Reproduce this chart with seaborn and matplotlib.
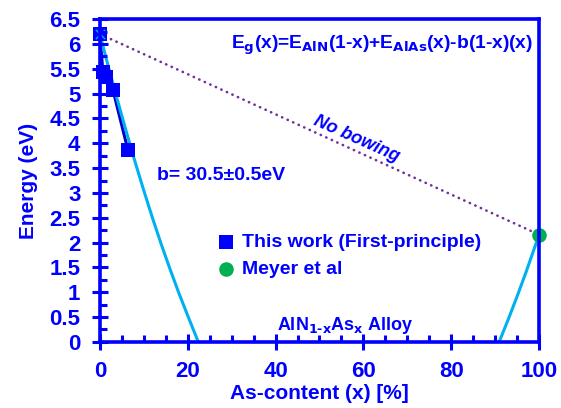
import numpy as np
import pandas as pd
import matplotlib
matplotlib.use("Agg")
import matplotlib.pyplot as plt
import seaborn as sns
from matplotlib.ticker import MultipleLocator

# ----------------------------
# Data
# ----------------------------

# first-principle points, As content in %
work_x = [0.0, 0.7, 1.4, 3.0, 6.4]
work_e = [6.2, 5.43, 5.33, 5.07, 3.86]

# Meyer et al
meyer_x = [100.0]
meyer_e = [2.16]

# no bowing line
linear_x = [0.0, 100.0]
linear_e = [6.2, 2.16]

# bowing curve, left branch
bow_left_x = [0.0, 2.0, 4.0, 6.0, 8.0, 10.0, 12.0, 14.0, 16.0, 18.0, 20.0, 22.4]
bow_left_e = [6.2, 5.52, 4.87, 4.24, 3.63, 3.05, 2.49, 1.96, 1.46, 0.98, 0.53, 0.0]

# bowing curve, right branch
bow_right_x = [90.9, 93.0, 95.0, 97.0, 100.0]
bow_right_e = [0.0, 0.46, 0.92, 1.40, 2.16]

BLUE = "#0000ff"
CYAN = "#00b0f0"
PURPLE = "#7030a0"
GREEN = "#00b050"

sns.set_style("ticks")
plt.rcParams["font.family"] = ["Liberation Sans", "DejaVu Sans"]
plt.rcParams["font.weight"] = "bold"
plt.rcParams["mathtext.default"] = "bf"

RECT = [0.178, 0.162, 0.783, 0.791]

fig = plt.figure(figsize=(5.61, 4.08), dpi=100)
ax = fig.add_axes(RECT)

# ----------------------------
# Lines
# ----------------------------

sns.lineplot(x=linear_x, y=linear_e, ax=ax, color=PURPLE,
             linestyle=(0, (0.1, 2.2)), linewidth=1.9, sort=False,
             dash_capstyle="round")

sns.lineplot(x=work_x, y=work_e, ax=ax, color="#0000cc",
             linewidth=2.2, sort=False)

sns.lineplot(x=bow_left_x, y=bow_left_e, ax=ax, color=CYAN,
             linewidth=2.2, sort=False)
sns.lineplot(x=bow_right_x, y=bow_right_e, ax=ax, color=CYAN,
             linewidth=2.2, sort=False)

# ----------------------------
# Markers
# ----------------------------

sns.scatterplot(x=work_x, y=work_e, ax=ax, marker="s", s=90,
                color=BLUE, edgecolor=BLUE, linewidth=0,
                label="This work (First-principle)", zorder=5, clip_on=False)
sns.scatterplot(x=work_x[:1], y=work_e[:1], ax=ax, marker="x", s=45,
                color=CYAN, linewidth=1, zorder=6, clip_on=False)
sns.scatterplot(x=meyer_x, y=meyer_e, ax=ax, marker="o", s=110,
                color=GREEN, edgecolor=GREEN, linewidth=0,
                label="Meyer et al", zorder=6, clip_on=False)

# ----------------------------
# Annotations
# ----------------------------

ax.text(0.985, 0.955,
        r"E$_\mathbf{g}$(x)=E$_\mathbf{AlN}$(1-x)+E$_\mathbf{AlAs}$(x)-b(1-x)(x)",
        transform=ax.transAxes, ha="right", va="top", color=BLUE,
        fontsize=13.8, fontweight="bold")

ax.text(58.5, 4.08, "No bowing", rotation=-24, ha="center", va="center",
        color=BLUE, fontsize=13, fontweight="bold", style="italic")

ax.text(13, 3.36, "b= 30.5\u00b10.5eV", ha="left", va="center",
        color=BLUE, fontsize=14, fontweight="bold")

ax.text(55.8, 0.34, r"AlN$_\mathbf{1\text{-}x}$As$_\mathbf{x}$ Alloy",
        ha="center", va="center", color=BLUE, fontsize=13,
        fontweight="bold")

leg = ax.legend(loc="upper left", bbox_to_anchor=(208 / 561, 1 - 226 / 408),
                bbox_transform=fig.transFigure, frameon=False,
                handletextpad=0.35, labelspacing=0.45, borderaxespad=0,
                handlelength=1.0, fontsize=14)
for t in leg.get_texts():
    t.set_color(BLUE)
    t.set_fontweight("bold")

ax.set_xlim(0, 100)
ax.set_ylim(0, 6.5)
ax.set_xlabel("")
ax.set_ylabel("")
ax.tick_params(which="both", bottom=False, left=False, top=False,
               right=False, labelbottom=False, labelleft=False)
for side in ["left", "bottom", "top", "right"]:
    ax.spines[side].set_visible(False)

# ----------------------------
# Frame, ticks and labels (overlay axes)
# ----------------------------

fr = fig.add_axes(RECT)
fr.patch.set_alpha(0)
fr.set_xlim(0, 100)
fr.set_ylim(0, 6.5)

fr.xaxis.set_major_locator(MultipleLocator(20))
fr.xaxis.set_minor_locator(MultipleLocator(5))
fr.yaxis.set_major_locator(MultipleLocator(0.5))
fr.yaxis.set_minor_locator(MultipleLocator(0.25))
fr.yaxis.set_major_formatter(plt.FuncFormatter(lambda v, p: f"{v:g}"))

fr.tick_params(which="major", direction="inout", length=12, width=2.2,
               color=BLUE, labelcolor=BLUE, labelsize=16, pad=8)
fr.tick_params(which="minor", direction="in", length=5, width=2.2,
               color=BLUE)
fr.tick_params(axis="both", which="both", top=False, right=False)

for side in ["left", "bottom", "top", "right"]:
    fr.spines[side].set_color(BLUE)
    fr.spines[side].set_linewidth(2.6)

fr.set_xlabel("As-content (x) [%]", color=BLUE, fontsize=15,
              fontweight="bold", labelpad=1)
fr.set_ylabel("Energy (eV)", color=BLUE, fontsize=15,
              fontweight="bold", labelpad=8)

fig.savefig("out.png", dpi=100)
plt.close()
